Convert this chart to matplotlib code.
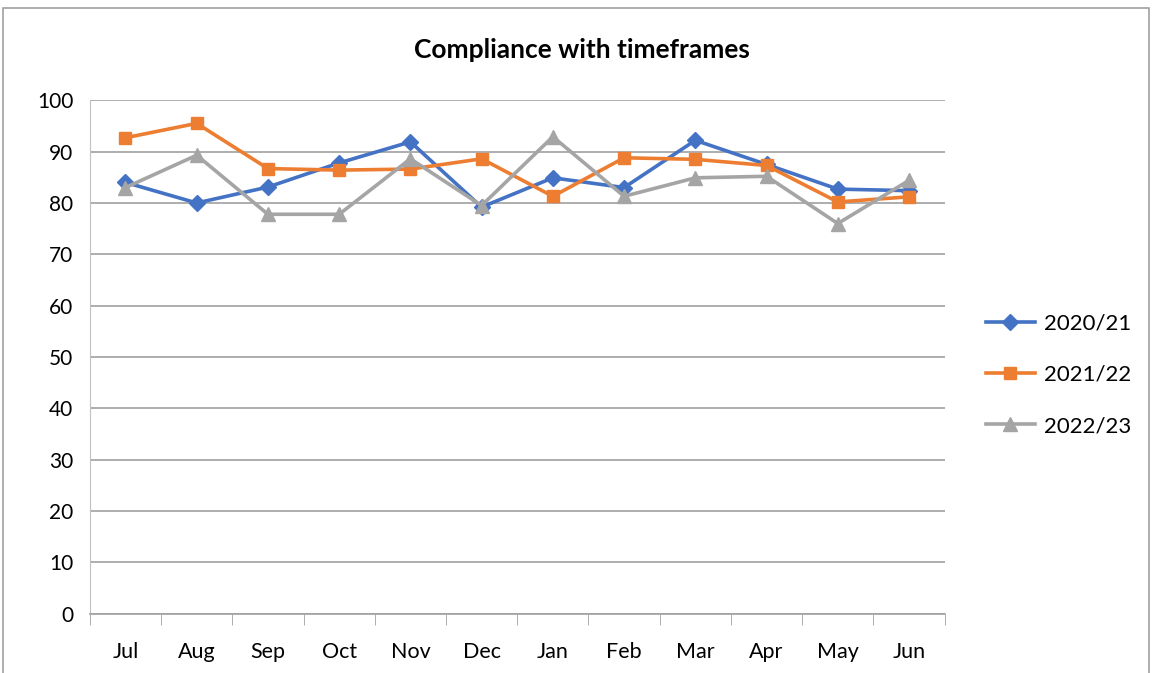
import matplotlib.pyplot as plt
from matplotlib.patches import Rectangle

plt.rcParams['font.family'] = ['Lato', 'DejaVu Sans']

months = ['Jul', 'Aug', 'Sep', 'Oct', 'Nov', 'Dec', 'Jan', 'Feb', 'Mar', 'Apr', 'May', 'Jun']
y2020 = [84.0, 80.0, 83.1, 87.8, 91.9, 79.2, 84.9, 83.0, 92.2, 87.5, 82.7, 82.4]
y2021 = [92.7, 95.5, 86.7, 86.4, 86.6, 88.6, 81.3, 88.8, 88.5, 87.3, 80.2, 81.2]
y2022 = [83.0, 89.3, 77.8, 77.8, 88.6, 79.5, 92.9, 81.3, 84.9, 85.2, 76.0, 84.4]

fig = plt.figure(figsize=(11.52, 6.73), dpi=100)
ax = fig.add_axes([0.078, 0.088, 0.742, 0.763])

x = range(len(months))
ax.plot(x, y2020, color='#4472C4', lw=2.6, marker='D', ms=8, label='2020/21')
ax.plot(x, y2021, color='#ED7D31', lw=2.6, marker='s', ms=9, label='2021/22')
ax.plot(x, y2022, color='#A5A5A5', lw=2.6, marker='^', ms=10, label='2022/23')

ax.set_xlim(-0.5, 11.5)
ax.set_ylim(0, 100)
ax.set_yticks(range(0, 101, 10))
ax.set_xticks(x)
ax.set_xticklabels(months)
ax.set_xticks([i - 0.5 for i in range(13)], minor=True)
ax.tick_params(axis='x', which='major', length=0, pad=20, labelsize=15.5)
ax.tick_params(axis='x', which='minor', length=8, color='#a0a0a0')
ax.tick_params(axis='y', length=0, pad=12, labelsize=15)
ax.grid(axis='y', color='#a0a0a0', lw=1.2)
ax.set_axisbelow(True)
for s in ['top', 'right']:
    ax.spines[s].set_visible(False)
ax.spines['left'].set_color('#c0c0c0')
ax.spines['bottom'].set_color('#a0a0a0')
ax.spines['bottom'].set_linewidth(1.2)

fig.suptitle('Compliance with timeframes', x=0.505, y=0.926, va='center', fontsize=19, fontweight='bold')
ax.legend(loc='center left', bbox_to_anchor=(1.025, 0.465), frameon=False, fontsize=16,
          handlelength=2.2, labelspacing=1.4, handletextpad=0.4)

fig.patches.append(Rectangle((0.003, -0.01), 0.994, 0.998, transform=fig.transFigure,
                             fill=False, edgecolor='#a0a0a0', lw=1.2))

plt.savefig('out.png', dpi=100)
